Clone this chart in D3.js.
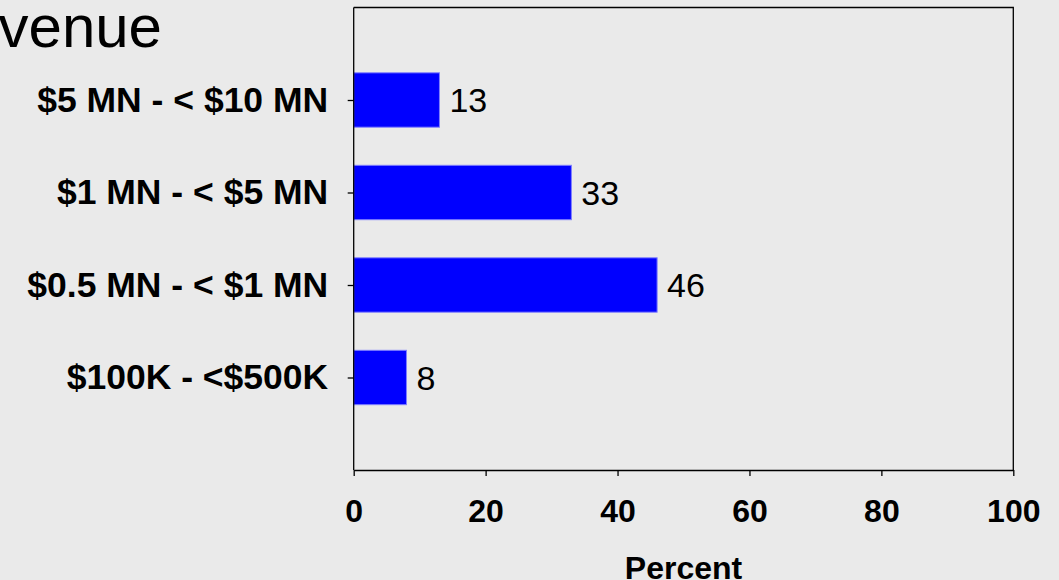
<!DOCTYPE html>
<html>
<head>
<meta charset="utf-8">
<script src="https://cdn.jsdelivr.net/npm/d3@7"></script>
<style>
  html, body { margin: 0; padding: 0; background: #eaeaea; }
  svg { display: block; }
  text { font-family: "Liberation Sans", Arial, Helvetica, sans-serif; fill: #000; }
</style>
</head>
<body>
<svg id="chart" width="1059" height="580"></svg>
<script>
// ---- data ----
const categories = ["$100K - <$500K", "$0.5 MN - < $1 MN", "$1 MN - < $5 MN", "$5 MN - < $10 MN"];
const values = [8, 46, 33, 13];
const xTicks = [0, 20, 40, 60, 80, 100];
const titleText = "Revenue";
const xAxisTitle = "Percent";

// ---- layout ----
const W = 1059, H = 580;
const plot = { left: 353.7, right: 1013.3, top: 7.5, bottom: 470 };

const svg = d3.select("#chart");
svg.append("rect").attr("width", W).attr("height", H).attr("fill", "#eaeaea");

const x = d3.scaleLinear().domain([0, 100]).range([plot.left, plot.right]);
// slots 0..5; categories occupy slots 1..4 (bottom to top)
const y = d3.scaleLinear().domain([0, categories.length + 1]).range([plot.bottom, plot.top]);
const step = Math.abs(y(1) - y(0));
const barH = step * 0.588;

// frame (top and right)
svg.append("path")
  .attr("d", `M${plot.left},${plot.top}H${plot.right}V${plot.bottom}`)
  .attr("fill", "none").attr("stroke", "#000").attr("stroke-width", 1.3);

// bars
svg.append("g").selectAll("rect")
  .data(values)
  .join("rect")
  .attr("x", x(0))
  .attr("y", (d, i) => y(i + 1) - barH / 2)
  .attr("width", d => x(d) - x(0))
  .attr("height", barH)
  .attr("fill", "#0000ff")
  .attr("stroke", "#7f7fff")
  .attr("stroke-width", 1);

// value labels
svg.append("g").selectAll("text")
  .data(values)
  .join("text")
  .attr("x", d => x(d) + 10)
  .attr("y", (d, i) => y(i + 1))
  .attr("dy", "0.36em")
  .style("font-size", "34px")
  .text(d => d);

// y axis
const yAxis = d3.axisLeft(y)
  .tickValues(categories.map((c, i) => i + 1))
  .tickFormat((d) => categories[d - 1])
  .tickSize(6).tickPadding(19.5);
const gy = svg.append("g").attr("transform", `translate(${plot.left},0)`).call(yAxis);
gy.select(".domain").attr("d", `M0,${plot.top}V${plot.bottom}`).attr("stroke", "#000").attr("stroke-width", 1.3);
gy.selectAll(".tick line").attr("stroke", "#000").attr("stroke-width", 1.3);
gy.selectAll(".tick text")
  .style("font-family", '"Liberation Sans", Arial, sans-serif')
  .style("font-size", "35.5px").style("font-weight", "bold").attr("fill", "#000");

// x axis
const xAxis = d3.axisBottom(x).tickValues(xTicks).tickFormat(d3.format("d"))
  .tickSize(6).tickPadding(23).tickSizeOuter(0);
const gx = svg.append("g").attr("transform", `translate(0,${plot.bottom})`).call(xAxis);
gx.select(".domain").attr("stroke", "#000").attr("stroke-width", 1.3);
gx.selectAll(".tick line").attr("stroke", "#000").attr("stroke-width", 1.3);
gx.selectAll(".tick text")
  .style("font-family", '"Liberation Sans", Arial, sans-serif')
  .style("font-size", "32px").style("font-weight", "bold").attr("fill", "#000");

// x axis title
svg.append("text")
  .attr("x", (plot.left + plot.right) / 2)
  .attr("y", 579)
  .attr("text-anchor", "middle")
  .style("font-size", "32px").style("font-weight", "bold")
  .text(xAxisTitle);

// chart title (clipped at the left edge in the reference)
svg.append("text")
  .attr("x", 162)
  .attr("y", 46.5)
  .attr("text-anchor", "end")
  .style("font-size", "60px")
  .text(titleText);
</script>
</body>
</html>
